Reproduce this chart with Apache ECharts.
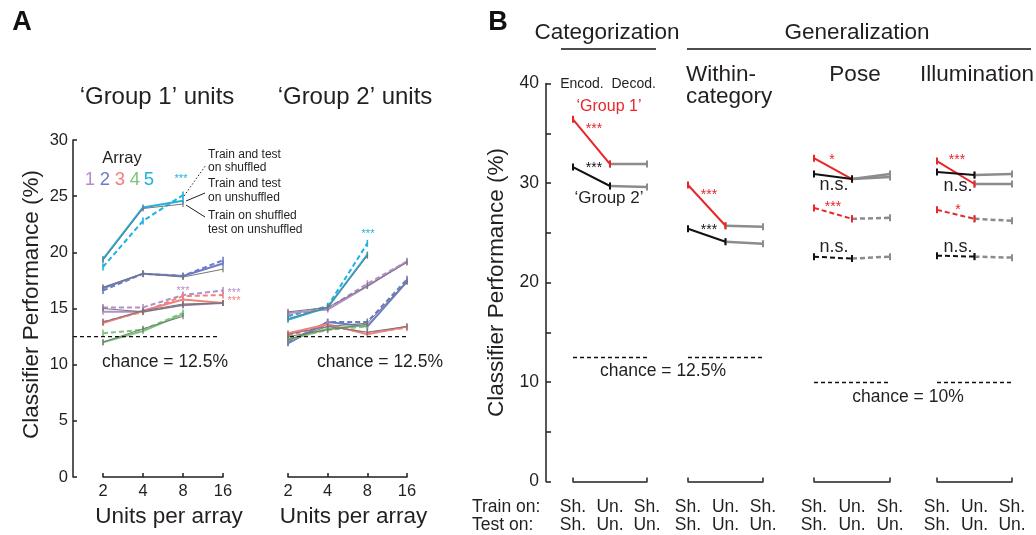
<!DOCTYPE html>
<html><head><meta charset="utf-8">
<script src="https://cdn.jsdelivr.net/npm/echarts@6/dist/echarts.min.js"></script>
<style>html,body{margin:0;padding:0;background:#fff}#c{width:1036px;height:535px}</style>
</head><body><div id="c"></div>
<script>
// ---------- DATA ----------
const unitsTicks = ['2', '4', '8', '16'];
const yTicksA = [0, 5, 10, 15, 20, 25, 30];
const arrayNames = ['1', '2', '3', '4', '5'];
// Group 1 units: [train&test unshuffled (solid), train&test shuffled (dashed), train shuffled/test unshuffled (gray)]
const g1_a1 = { un: [14.7, 14.7, 15.3, 15.5], sh: [15.1, 15.1, 16.2, 16.6], mix: [15.0, 14.7, 15.3, 15.5] };
const g1_a2 = { un: [16.8, 18.1, 17.9, 19.0], sh: [16.6, 18.1, 17.9, 19.3], mix: [16.9, 18.1, 17.8, 18.5] };
const g1_a3 = { un: [13.7, 14.8, 15.8, 15.5], sh: [13.8, 14.7, 16.1, 16.2], mix: [13.8, 14.8, 15.4, 15.5] };
const g1_a4 = { un: [12.0, 13.0, 14.5], sh: [12.8, 13.1, 14.6], mix: [12.0, 13.2, 14.3] };
const g1_a5 = { un: [19.4, 24.0, 24.6], sh: [18.7, 22.8, 25.1], mix: [19.3, 23.9, 24.3] };
// Group 2 units
const g2_a1 = { un: [14.6, 14.9, 17.0, 19.2], sh: [14.4, 15.0, 17.2, 19.2], mix: [14.7, 15.1, 17.0, 19.1] };
const g2_a2 = { un: [11.9, 13.8, 13.4, 17.4], sh: [12.0, 13.8, 13.8, 17.6], mix: [12.2, 13.4, 13.7, 17.4] };
const g2_a3 = { un: [12.8, 13.6, 12.7, 13.4], sh: [12.6, 13.5, 12.8, 13.3], mix: [12.7, 13.4, 12.9, 13.4] };
const g2_a4 = { un: [12.2, 13.2, 13.5], sh: [12.3, 13.1, 13.4], mix: [12.5, 13.1, 13.6] };
const g2_a5 = { un: [14.0, 15.1, 19.8], sh: [14.3, 15.2, 20.8], mix: [14.1, 15.1, 19.7] };
const chanceA = 12.5;

// Panel B
const trainTest = ['Sh.\nSh.', 'Un.\nUn.', 'Sh.\nUn.'];
const panelBGroups = ['Categorization', 'Within-category', 'Pose', 'Illumination'];
const catG1 = [36.4, 31.9, 31.9];
const catG2 = [31.6, 29.7, 29.6];
const witG1 = [29.8, 25.7, 25.6];
const witG2 = [25.4, 24.1, 23.9];
const poseG1 = [32.5, 30.4, 30.6];
const poseG2 = [30.9, 30.4, 30.9];
const poseG1sh = [27.5, 26.4, 26.5];
const poseG2sh = [22.6, 22.4, 22.6];
const illG1 = [32.2, 29.9, 29.9];
const illG2 = [31.1, 30.8, 30.9];
const illG1sh = [27.3, 26.4, 26.2];
const illG2sh = [22.7, 22.6, 22.5];
const chanceB = [12.5, 12.5, 10, 10];

// ---------- STYLE ----------
const FONT = '"Liberation Sans", Arial, Helvetica, sans-serif';
const TXT = '#231f20';
const arrColors = ['#b48ec8', '#6b7dc6', '#f0817e', '#7cc47c', '#1fb1e0'];
const GRAY = '#767676';
const RED = '#e8262a';
const BGRAY = '#8c8c8c';
const BIG = 22.5;

const chart = echarts.init(document.getElementById('c'), null, { renderer: 'canvas' });

const gridsA = [
  { left: 103, top: 140, width: 120, height: 337 },
  { left: 288, top: 140, width: 119, height: 337 }
];
const gridsB = [
  { left: 573, top: 83.5, width: 74, height: 398 },
  { left: 688, top: 83.5, width: 75, height: 398 },
  { left: 814, top: 83.5, width: 76, height: 398 },
  { left: 937, top: 83.5, width: 75, height: 398 }
];

const xAxes = [];
const yAxes = [];
gridsA.forEach((g, i) => {
  xAxes.push({
    gridIndex: i, type: 'category', data: unitsTicks, boundaryGap: false,
    axisLine: { lineStyle: { color: TXT, width: 1.5 } },
    axisTick: { inside: true, length: 4, lineStyle: { color: TXT, width: 1.5 } },
    axisLabel: { color: TXT, fontSize: 16.5, fontFamily: FONT, margin: 6 },
    name: 'Units per array', nameLocation: 'middle', nameGap: 21,
    nameTextStyle: { color: TXT, fontSize: BIG, fontFamily: FONT, padding: [0, 0, 0, 12] },
    splitLine: { show: false }
  });
  yAxes.push({
    gridIndex: i, type: 'value', min: 0, max: 30, interval: 5,
    show: i === 0, offset: 30,
    axisLine: { show: true, lineStyle: { color: TXT, width: 1.5 } },
    axisTick: { show: true, inside: true, length: 4, lineStyle: { color: TXT, width: 1.5 } },
    axisLabel: { color: TXT, fontSize: 16.5, fontFamily: FONT, margin: 5 },
    splitLine: { show: false },
    name: i === 0 ? 'Classifier Performance (%)' : '', nameLocation: 'middle', nameGap: 30, nameRotate: 90,
    nameTextStyle: { color: TXT, fontSize: BIG, fontFamily: FONT, padding: [0, 0, 0, 8] }
  });
});
gridsB.forEach((g, i) => {
  xAxes.push({
    gridIndex: 2 + i, type: 'category', data: trainTest, boundaryGap: false,
    axisLine: { lineStyle: { color: TXT, width: 1.5 } },
    axisTick: { inside: true, length: 4, interval: (idx) => idx !== 1, lineStyle: { color: TXT, width: 1.5 } },
    axisLabel: { color: TXT, fontSize: 17.5, fontFamily: FONT, margin: 17, lineHeight: 18, interval: 0 },
    splitLine: { show: false }
  });
  yAxes.push({
    gridIndex: 2 + i, type: 'value', min: 0, max: 40, interval: 5,
    show: i === 0, offset: 27,
    axisLine: { show: true, lineStyle: { color: TXT, width: 1.5 } },
    axisTick: { show: true, inside: true, length: 5, lineStyle: { color: TXT, width: 1.5 } },
    axisLabel: { color: TXT, fontSize: 17.5, fontFamily: FONT, margin: 7, formatter: v => (v % 10 === 0 ? v : '') },
    splitLine: { show: false },
    name: i === 0 ? 'Classifier Performance (%)' : '', nameLocation: 'middle', nameGap: 38, nameRotate: 90,
    nameTextStyle: { color: TXT, fontSize: BIG, fontFamily: FONT }
  });
});

function ln(axis, data, color, width, dashed, z, barW, barH) {
  return {
    type: 'line', xAxisIndex: axis, yAxisIndex: axis, data: data,
    symbol: 'rect', symbolSize: [barW || 1.6, barH || 6], showSymbol: true,
    connectNulls: false, silent: true, animation: false, z: z,
    lineStyle: { color: color, width: width, type: dashed ? [5, 3] : 'solid' },
    itemStyle: { color: color }
  };
}

const series = [];
const groupA = [[g1_a1, g1_a2, g1_a3, g1_a4, g1_a5], [g2_a1, g2_a2, g2_a3, g2_a4, g2_a5]];
groupA.forEach((arrs, gi) => {
  arrs.forEach((a, k) => { series.push(ln(gi, a.sh, arrColors[k], 2, true, 2, 1.6, 7)); });
  arrs.forEach((a, k) => { series.push(ln(gi, a.un, arrColors[k], 2, false, 3, 1.6, 6)); });
  arrs.forEach((a, k) => { series.push(ln(gi, a.mix, GRAY, 1, false, 4, 1.2, 6)); });
});

function first2(v) { return [v[0], v[1], null]; }
function last2(v) { return [null, v[1], v[2]]; }
function pair(axis, vals, color, dashed) {
  series.push(ln(axis, last2(vals), BGRAY, 2.5, dashed, 3, 2, 7));
  series.push(ln(axis, first2(vals), color, 2, dashed, 4, 2, 7));
}
pair(2, catG1, RED, false); pair(2, catG2, '#111', false);
pair(3, witG1, RED, false); pair(3, witG2, '#111', false);
pair(4, poseG1, RED, false); pair(4, poseG2, '#111', false);
pair(4, poseG1sh, RED, true); pair(4, poseG2sh, '#111', true);
pair(5, illG1, RED, false); pair(5, illG2, '#111', false);
pair(5, illG1sh, RED, true); pair(5, illG2sh, '#111', true);

// chance lines panel B
chanceB.forEach((c, i) => {
  series.push({
    type: 'line', xAxisIndex: 2 + i, yAxisIndex: 2 + i, data: [], silent: true, animation: false,
    markLine: { silent: true, symbol: 'none', animation: false, label: { show: false },
      lineStyle: { color: '#111', width: 1.3, type: [4, 3] }, data: [{ yAxis: c }] }
  });
});

chart.setOption({
  backgroundColor: '#fff',
  animation: false,
  textStyle: { fontFamily: FONT },
  grid: gridsA.concat(gridsB),
  xAxis: xAxes, yAxis: yAxes, series: series
});

// ---------- annotations ----------
function T(x, y, text, size, color, opt) {
  opt = opt || {};
  return { type: 'text', silent: true, z: 100, style: {
    x: x, y: y, text: text, fill: color || TXT, fontSize: size, fontFamily: FONT,
    fontWeight: opt.bold ? 'bold' : 'normal',
    align: opt.align || 'center', verticalAlign: 'middle',
    textAlign: opt.align || 'center', textVerticalAlign: 'middle' } };
}
function L(x1, y1, x2, y2, color, w, dash) {
  return { type: 'line', silent: true, z: 100, shape: { x1, y1, x2, y2 },
    style: { stroke: color || TXT, lineWidth: w || 1, lineDash: dash || null } };
}
const yA = chart.convertToPixel({ gridIndex: 0 }, [0, chanceA])[1];
const g = [];
g.push(L(73, yA, 218, yA, '#111', 1.3, [4, 3]));
g.push(L(290, yA, 407, yA, '#111', 1.3, [4, 3]));
g.push(T(22, 23, 'A', 27, '#111', { bold: true }));
g.push(T(498, 23, 'B', 27, '#111', { bold: true }));
g.push(T(157, 97, '\u2018Group 1\u2019 units', 24));
g.push(T(355, 97, '\u2018Group 2\u2019 units', 24));
g.push(T(122, 158, 'Array', 16.5));
const digX = [90, 105, 120, 135, 149];
arrayNames.forEach((n, k) => g.push(T(digX[k], 180, n, 18.5, arrColors[k])));
g.push(T(208, 155, 'Train and test', 12, TXT, { align: 'left' }));
g.push(T(208, 168, 'on shuffled', 12, TXT, { align: 'left' }));
g.push(T(208, 184, 'Train and test', 12, TXT, { align: 'left' }));
g.push(T(208, 198, 'on unshuffled', 12, TXT, { align: 'left' }));
g.push(T(208, 216, 'Train on shuffled', 12, TXT, { align: 'left' }));
g.push(T(208, 230, 'test on unshuffled', 12, TXT, { align: 'left' }));
g.push(L(184, 196, 206, 165, TXT, 1, [1.5, 2]));
g.push(L(186, 201, 205, 193, TXT, 1));
g.push(L(186, 205, 205, 217, TXT, 1));
g.push(T(181, 179, '***', 11, arrColors[4]));
g.push(T(183, 291, '***', 11, arrColors[0]));
g.push(T(234, 293, '***', 11, arrColors[0]));
g.push(T(234, 301, '***', 11, arrColors[2]));
g.push(T(368, 234, '***', 11, arrColors[4]));
g.push(T(165, 362, 'chance = 12.5%', 17.5));
g.push(T(380, 362, 'chance = 12.5%', 17.5));

// panel B headers
g.push(T(607, 33, 'Categorization', BIG));
g.push(L(561, 49, 656, 49, '#111', 1.5));
g.push(T(857, 33, 'Generalization', BIG));
g.push(L(687, 49, 1031, 49, '#111', 1.5));
g.push(T(686, 75, 'Within-', BIG, TXT, { align: 'left' }));
g.push(T(686, 97, 'category', BIG, TXT, { align: 'left' }));
g.push(T(855, 75, 'Pose', BIG));
g.push(T(977, 75, 'Illumination', BIG));
g.push(T(608, 84, 'Encod.  Decod.', 14));
g.push(T(609, 107, '\u2018Group 1\u2019', 16, RED));
g.push(T(609, 198, '\u2018Group 2\u2019', 17));
g.push(T(594, 129, '***', 14, RED));
g.push(T(594, 168, '***', 14, '#111'));
g.push(T(709, 195, '***', 14, RED));
g.push(T(709, 230, '***', 14, '#111'));
g.push(T(832, 160, '*', 14, RED));
g.push(T(834, 185, 'n.s.', 18));
g.push(T(833, 207, '***', 14, RED));
g.push(T(834, 247, 'n.s.', 18));
g.push(T(957, 160, '***', 14, RED));
g.push(T(958, 186, 'n.s.', 18));
g.push(T(958, 210, '*', 14, RED));
g.push(T(958, 247, 'n.s.', 18));
g.push(T(663, 371, 'chance = 12.5%', 17.5));
g.push(T(908, 397, 'chance = 10%', 17.5));
g.push(T(472, 507, 'Train on:', 17.5, TXT, { align: 'left' }));
g.push(T(472, 525, 'Test on:', 17.5, TXT, { align: 'left' }));

chart.setOption({ graphic: g });
</script></body></html>
